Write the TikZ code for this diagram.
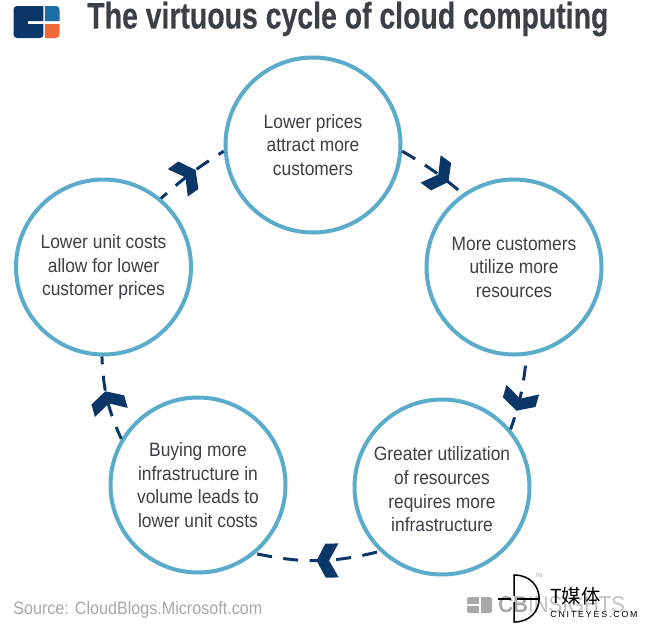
\documentclass[tikz,border=0pt]{standalone}
\usepackage{fontspec}
\setmainfont{Liberation Sans}
\newfontfamily\bodyfont[FakeStretch=0.9]{Liberation Sans}
\newfontfamily\headfont[FakeStretch=0.77,FakeBold=0.4]{Liberation Sans}
\newfontfamily\cjkfont{Noto Sans CJK SC}
\usetikzlibrary{decorations.markings}
\definecolor{ringblue}{HTML}{5BABCA}
\definecolor{navy}{HTML}{0A3668}
\definecolor{inktext}{HTML}{3B4046}
\definecolor{greytext}{HTML}{A8A8A8}
\definecolor{logotop}{HTML}{1B6FA6}
\definecolor{logolow}{HTML}{F2693A}
\tikzset{
  stage/.style={draw=ringblue,line width=0.08cm,circle,minimum size=3.5cm,inner sep=0pt,align=center,text=inktext,font=\bodyfont\fontsize{11}{13.4}\selectfont},
  conn/.style={draw=navy,line width=0.06cm,dash pattern=on 0.30cm off 0.23cm,dash phase=#1},
  tipat/.style 2 args={postaction={decorate},decoration={markings,mark=at position #1 with {\fill[navy,solid,rotate=#2] (0,0)--(-0.18,0.34)--(-0.44,0.34)--(-0.25,0)--(-0.44,-0.34)--(-0.18,-0.34)--cycle;}}},
  lbl/.style={inner sep=0pt,text=greytext},
  mark line/.style={black,line width=0.03cm}
}
\begin{document}
\begin{tikzpicture}
\useasboundingbox (0,0) rectangle (12.98,-12.66);
% logo
\fill[navy,rounded corners=2pt] (0.87,-0.12) -- (0.27,-0.12) -- (0.27,-0.76) -- (0.87,-0.76) [sharp corners] -- (0.87,-0.48) -- (0.56,-0.48) -- (0.56,-0.42) -- (0.87,-0.42) -- cycle;
\fill[logotop] (0.90,-0.42) -- (0.90,-0.12) [rounded corners=2pt] -- (1.19,-0.12) [sharp corners] -- (1.19,-0.42) -- cycle;
\fill[logolow] (0.90,-0.48) -- (1.19,-0.48) [rounded corners=2pt] -- (1.19,-0.76) [sharp corners] -- (0.90,-0.76) -- cycle;
\node[anchor=west,inner sep=0pt,text=inktext] (title) at (1.74,-0.38) {\headfont\bfseries\fontsize{21}{24}\selectfont The virtuous cycle of cloud computing};
% stages
\node[stage] (top) at (6.26,-2.90) {Lower prices\\attract more\\customers};
\node[stage] (right) at (10.28,-5.34) {More customers\\utilize more\\resources};
\node[stage] (lowr) at (8.84,-9.74) {\rule{0pt}{10.7pt}Greater utilization\\of resources\\requires more\\infrastructure};
\node[stage] (lowl) at (3.96,-9.70) {Buying more\\infrastructure in\\volume leads to\\lower unit costs};
\node[stage] (left) at (2.07,-5.34) {Lower unit costs\\allow for lower\\customer prices};
% connectors
\draw[conn=0cm,tipat={0.75}{2}] (top.-4) to[bend left=5] (right.125);
\draw[conn=0.33cm,tipat={0.74}{0}] (right.-82) to[bend left=7] (lowr.40);
\draw[conn=0.47cm,tipat={0.51}{0}] (lowr.-134) to[bend left=13] (lowl.-50);
\draw[conn=0.04cm,tipat={0.59}{5}] (lowl.149) to[bend left=11] (left.-91);
\draw[conn=0.14cm,tipat={0.57}{0}] (left.50) to[bend left=5] (top.-176);
% footer
\node[lbl,anchor=west] (source) at (0.26,-12.19) {\bodyfont\fontsize{10.2}{12}\selectfont Source: CloudBlogs.Microsoft.com};
\fill[greytext,rounded corners=1pt] (9.34,-11.94) rectangle (9.84,-12.26);
\fill[white] (9.34,-12.08) rectangle (9.58,-12.12);
\fill[white] (9.58,-11.94) rectangle (9.62,-12.26);
\node[lbl,anchor=west] (brand) at (9.96,-12.10) {\bodyfont\fontsize{13}{14}\selectfont\textbf{CB}\textcolor{greytext!70}{INSIGHTS}};
% watermark
\draw[mark line] (10.28,-11.92) -- (10.28,-11.50) .. controls (10.95,-11.50) and (10.95,-12.44) .. (10.28,-12.44) -- (10.28,-12.04);
\draw[mark line] (9.96,-11.98) -- (10.22,-11.98);
\draw[mark line] (10.34,-11.98) -- (10.78,-11.98);
\node[inner sep=0pt,text=greytext] (tm) at (10.78,-11.52) {\fontsize{3}{4}\selectfont TM};
\node[inner sep=0pt,anchor=west,text=black] (wm) at (11.0,-11.93) {\cjkfont\fontsize{11}{12}\selectfont T媒体};
\node[inner sep=0pt,anchor=west,text=black] (wmurl) at (11.0,-12.28) {\fontsize{5}{6}\selectfont\addfontfeature{LetterSpace=21}CNITEYES.COM};
\end{tikzpicture}
\end{document}
